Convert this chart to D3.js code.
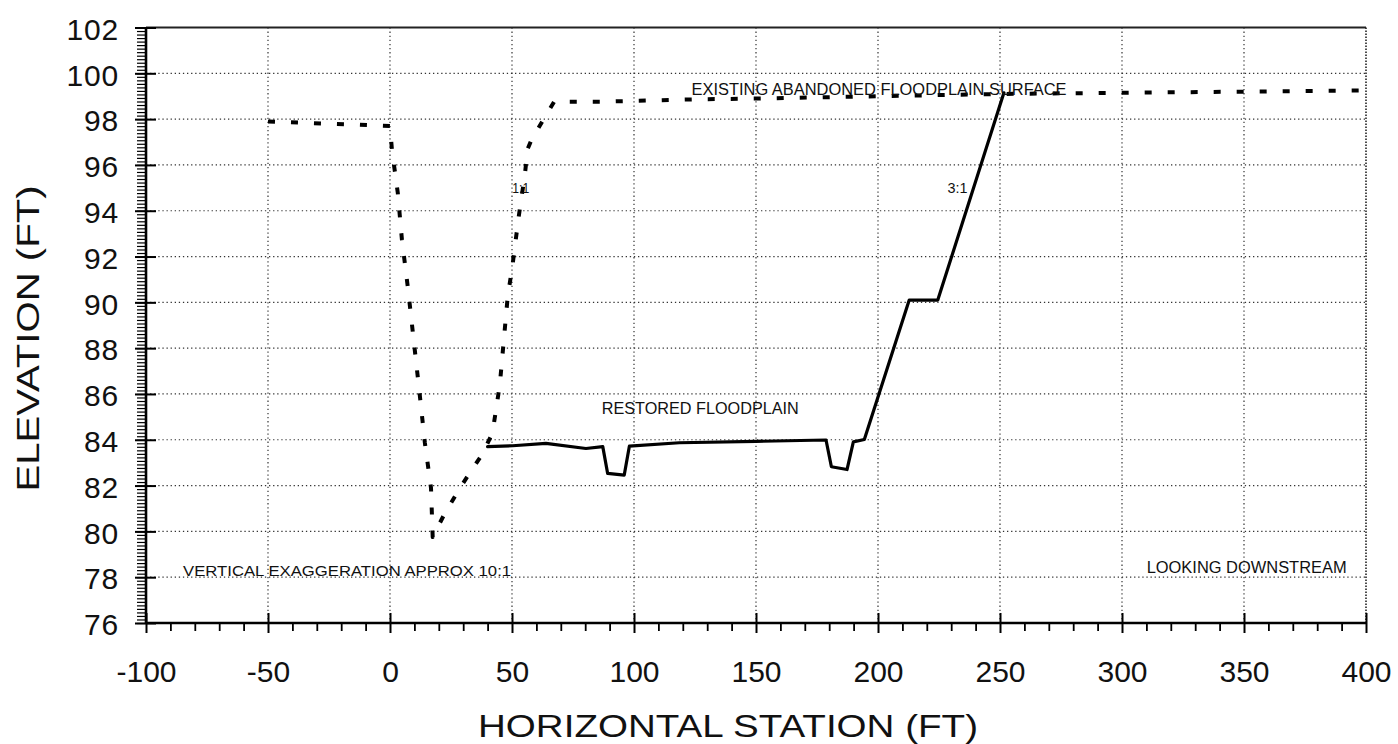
<!DOCTYPE html>
<html><head><meta charset="utf-8">
<script src="https://cdn.jsdelivr.net/npm/d3@7"></script>
<style>body{margin:0;background:#fff}svg{display:block}</style>
</head><body>
<svg id="c" width="1398" height="744"></svg>
<script>
// ---- data ----
const existingStation = [-50, 0, 0.8, 3.2, 4.9, 7.3, 12.3, 14.3, 16.8, 17.5, 22.5, 28.7, 33.9, 38, 42, 45, 48.2, 50.3, 52.7, 55.3, 56.4, 58, 63, 67.3, 87, 124, 151, 200, 251, 300, 350, 397];
const existingElev    = [97.9, 97.7, 96.65, 94.77, 92.72, 90.67, 85.86, 83.86, 81.9, 79.75, 80.8, 81.9, 82.75, 83.4, 84.3, 86.4, 90.2, 91.7, 93.7, 95.6, 96.7, 97.1, 98.0, 98.76, 98.76, 98.86, 98.9, 99.0, 99.1, 99.15, 99.2, 99.25];
const restoredStation = [40, 50.3, 63.9, 80.3, 87.2, 89.2, 96, 98.1, 118.6, 150, 178.7, 180.9, 187.3, 189.9, 194.4, 212.8, 224.5, 251.6];
const restoredElev    = [83.7, 83.74, 83.84, 83.62, 83.7, 82.53, 82.46, 83.72, 83.87, 83.93, 83.99, 82.82, 82.7, 83.91, 84.01, 90.1, 90.1, 99.15];
const xTicks = [-100, -50, 0, 50, 100, 150, 200, 250, 300, 350, 400];
const yTicks = [76, 78, 80, 82, 84, 86, 88, 90, 92, 94, 96, 98, 100, 102];
const xTitle = "HORIZONTAL STATION (FT)";
const yTitle = "ELEVATION (FT)";
const noteTexts    = ["EXISTING ABANDONED FLOODPLAIN SURFACE", "RESTORED FLOODPLAIN", "1:1", "3:1", "VERTICAL EXAGGERATION APPROX 10:1", "LOOKING DOWNSTREAM"];
const noteStations = [123.6, 86.8, 50.1, 228.5, -84.8, 310.1];
const noteElevs    = [99.05, 85.12, 94.76, 94.76, 78.06, 78.17];

// ---- layout ----
const svg = d3.select("#c");
const FONT = "'Liberation Sans', Arial, Helvetica, sans-serif";
svg.append("rect").attr("width", 1398).attr("height", 744).attr("fill", "#fff");
const x = d3.scaleLinear().domain([-100, 400]).range([146, 1366]);
const y = d3.scaleLinear().domain([76, 102]).range([623, 27.5]);

const g = svg.append("g");

// gridlines
g.selectAll("line.hg").data(yTicks.filter(v => v > 76 && v < 102)).join("line")
  .attr("x1", x(-100)).attr("x2", x(400)).attr("y1", d => y(d)).attr("y2", d => y(d))
  .attr("stroke", "#333").attr("stroke-width", 1.2).attr("stroke-dasharray", "1.3,2.8");
g.selectAll("line.vg").data(xTicks.filter(v => v > -100 && v < 400)).join("line")
  .attr("x1", d => x(d)).attr("x2", d => x(d)).attr("y1", y(102)).attr("y2", y(76))
  .attr("stroke", "#333").attr("stroke-width", 1.2).attr("stroke-dasharray", "1.3,2.8");
// right border (dense dots) and top border
g.append("line").attr("x1", x(400)).attr("x2", x(400)).attr("y1", y(102)).attr("y2", y(76))
  .attr("stroke", "#222").attr("stroke-width", 1.6).attr("stroke-dasharray", "1.5,1.5");
g.append("line").attr("x1", x(-100)).attr("x2", x(400)).attr("y1", y(102)).attr("y2", y(102))
  .attr("stroke", "#222").attr("stroke-width", 1.8);

// axes
const xAxis = d3.axisBottom(x).tickValues(xTicks).tickFormat(d => String(d)).tickSize(10).tickPadding(0);
const ax = svg.append("g").attr("transform", `translate(0,${y(76)})`).call(xAxis);
ax.select(".domain").remove();
ax.selectAll(".tick line").attr("y1", -10).attr("y2", 10).attr("stroke", "#000").attr("stroke-width", 2);
ax.selectAll(".tick text").attr("y", 59).attr("dy", null).attr("font-family", FONT).attr("font-size", 30).attr("fill", "#111");
const xMinor = d3.axisBottom(x).tickValues(d3.range(-100, 401, 10).filter(v => v % 50 !== 0)).tickSize(8).tickFormat("");
const axm = svg.append("g").attr("transform", `translate(0,${y(76)})`).call(xMinor);
axm.select(".domain").remove();
axm.selectAll(".tick line").attr("stroke", "#000").attr("stroke-width", 1.8);

const yAxis = d3.axisLeft(y).tickValues(yTicks).tickFormat(d => String(d)).tickSize(11).tickPadding(0);
const ay = svg.append("g").attr("transform", `translate(${x(-100)},0)`).call(yAxis);
ay.select(".domain").remove();
ay.selectAll(".tick line").attr("x1", -11).attr("x2", 10).attr("stroke", "#000").attr("stroke-width", 2);
ay.selectAll(".tick text").attr("x", -27).attr("dy", "0.39em").attr("font-family", FONT).attr("font-size", 30).attr("fill", "#111").attr("letter-spacing", 0.8);
const yMinorVals = d3.range(0, 26 * 6.5 + 1).map(i => 76 + i * 2 / 13).filter(v => v <= 102.001);
const yMinor = d3.axisLeft(y).tickValues(yMinorVals).tickSize(9).tickFormat("");
const aym = svg.append("g").attr("transform", `translate(${x(-100)},0)`).call(yMinor);
aym.select(".domain").remove();
aym.selectAll(".tick line").attr("stroke", "#000").attr("stroke-width", 1.2);

// axis lines
svg.append("line").attr("x1", x(-100)).attr("x2", x(400)).attr("y1", y(76)).attr("y2", y(76)).attr("stroke", "#000").attr("stroke-width", 2.6);
svg.append("line").attr("x1", x(-100)).attr("x2", x(-100)).attr("y1", y(102)).attr("y2", y(76)).attr("stroke", "#000").attr("stroke-width", 2.6);

// axis titles
svg.append("text").attr("x", 478).attr("y", 737).attr("font-family", FONT).attr("font-size", 32)
  .attr("fill", "#111").attr("textLength", 500).attr("lengthAdjust", "spacingAndGlyphs").text(xTitle);
svg.append("text").attr("transform", "translate(39,338.5) rotate(-90)").attr("text-anchor", "middle")
  .attr("font-family", FONT).attr("font-size", 31).attr("fill", "#111")
  .attr("textLength", 306).attr("lengthAdjust", "spacingAndGlyphs").text(yTitle);

// series
const existing = existingStation.map((s, i) => [s, existingElev[i]]);
const restored = restoredStation.map((s, i) => [s, restoredElev[i]]);
const line = d3.line().x(d => x(d[0])).y(d => y(d[1]));
svg.append("path").attr("d", line(existing)).attr("fill", "none").attr("stroke", "#000")
  .attr("stroke-width", 4).attr("stroke-dasharray", "7,16").attr("stroke-linejoin", "round");
svg.append("path").attr("d", line(restored)).attr("fill", "none").attr("stroke", "#000")
  .attr("stroke-width", 3.2).attr("stroke-linejoin", "round").attr("stroke-linecap", "round");

// annotations
const noteLens = [375, 197, 17, 20, 328, 200];
const noteSizes = [16, 16, 14, 14, 15.5, 16];
svg.selectAll("text.note").data(noteTexts).join("text").attr("class", "note")
  .attr("x", (d, i) => x(noteStations[i])).attr("y", (d, i) => y(noteElevs[i]))
  .attr("font-family", FONT).attr("font-size", (d, i) => noteSizes[i]).attr("fill", "#111")
  .attr("textLength", (d, i) => noteLens[i]).attr("lengthAdjust", "spacingAndGlyphs")
  .text(d => d);
</script>
</body></html>
